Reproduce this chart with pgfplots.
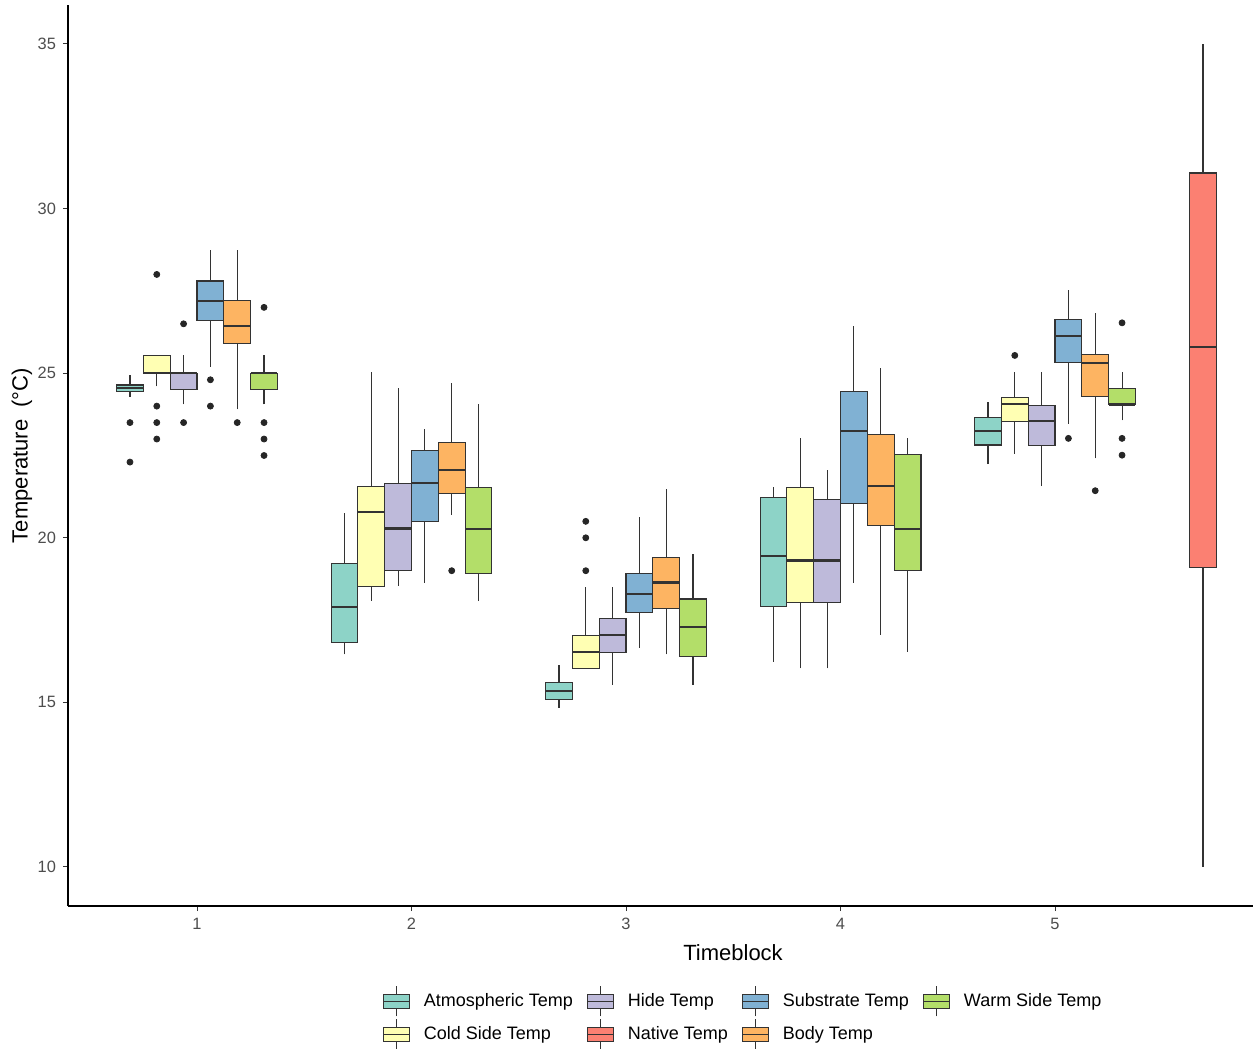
\documentclass[border=0pt]{standalone}
\usepackage{fontspec}
\setmainfont{Liberation Sans}
\usepackage{pgfplots}
\pgfplotsset{compat=1.18}
\definecolor{cAtm}{HTML}{8DD3C7}
\definecolor{cCold}{HTML}{FFFFB3}
\definecolor{cHide}{HTML}{BEBADA}
\definecolor{cNat}{HTML}{FB8072}
\definecolor{cSub}{HTML}{80B1D3}
\definecolor{cBody}{HTML}{FDB462}
\definecolor{cWarm}{HTML}{B3DE69}
\definecolor{bxc}{HTML}{333333}
\definecolor{tk}{HTML}{4D4D4D}
% box: colour, position, lower whisker, lower quartile, median, upper quartile, upper whisker
\newcommand{\bx}[7]{%
  \pgfmathsetmacro{\xa}{#2-0.0625}%
  \pgfmathsetmacro{\xb}{#2+0.0625}%
  \edef\doplots{%
    \noexpand\addplot[draw=bxc, line width=0.55pt] coordinates {(#2,#3) (#2,#4)};
    \noexpand\addplot[draw=bxc, line width=0.55pt] coordinates {(#2,#6) (#2,#7)};
    \noexpand\addplot[fill=#1, draw=bxc, line width=0.55pt, line cap=rect]
      coordinates {(\xa,#4) (\xb,#4) (\xb,#6) (\xa,#6) (\xa,#4)};
    \noexpand\addplot[draw=bxc, line width=1.15pt] coordinates {(\xa,#5) (\xb,#5)};
  }\doplots}
\pgfplotsset{legimg/.style={legend image code/.code={
  \draw[draw=bxc, line width=0.5pt] (6.5pt,-7.5pt)--(6.5pt,7.5pt);
  \draw[fill=#1, draw=bxc, line width=0.5pt] (0pt,-3.5pt) rectangle (13pt,3.5pt);
  \draw[draw=bxc, line width=0.5pt] (0pt,0pt)--(13pt,0pt);}}}
\begin{document}
\begin{tikzpicture}
\useasboundingbox (-34pt,-71.5pt) rectangle (592.5pt,453pt);
\begin{axis}[
  scale only axis, width=592.5pt, height=450.5pt,
  xmin=0.3986, xmax=5.923, ymin=8.815, ymax=36.185,
  axis lines*=left,
  axis line style={line width=0.55pt, black},
  xtick={1,2,3,4,5}, ytick={10,15,20,25,30,35},
  tick align=outside, major tick length=2.5pt,
  tick style={line width=0.5pt, color=bxc},
  ticklabel style={font=\fontsize{8.2}{9}\selectfont, text=tk},
  /pgf/number format/assume math mode=true,
  xlabel={Timeblock}, ylabel={Temperature\ \ (°C)},
  label style={font=\fontsize{11}{13}\selectfont},
  xlabel style={at={(axis description cs:0.5612,-0.0522)}, anchor=center},
  ylabel style={at={(axis description cs:-0.0388,0.5)}, anchor=center},
  legend columns=4, legend cell align=left,
  legend style={at={(axis description cs:0.5705,-0.1243)}, anchor=center,
    draw=none, fill=none, font=\fontsize{9}{10}\selectfont, row sep=1pt,
    /tikz/every odd column/.append style={column sep=5pt},
    /tikz/every even column/.append style={column sep=5pt}},
]
\addlegendimage{legimg=cAtm}\addlegendentry{Atmospheric Temp}
\addlegendimage{legimg=cHide}\addlegendentry{Hide Temp}
\addlegendimage{legimg=cSub}\addlegendentry{Substrate Temp}
\addlegendimage{legimg=cWarm}\addlegendentry{Warm Side Temp}
\addlegendimage{legimg=cCold}\addlegendentry{Cold Side Temp}
\addlegendimage{legimg=cNat}\addlegendentry{Native Temp}
\addlegendimage{legimg=cBody}\addlegendentry{Body Temp}
% group 1
\bx{cAtm}{0.6875}{24.28}{24.44}{24.56}{24.64}{24.95}
\bx{cCold}{0.8125}{24.6}{25.0}{25.0}{25.55}{25.55}
\bx{cHide}{0.9375}{24.05}{24.5}{25.0}{25.0}{25.55}
\bx{cSub}{1.0625}{25.2}{26.6}{27.2}{27.8}{28.75}
\bx{cBody}{1.1875}{23.9}{25.9}{26.43}{27.22}{28.75}
\bx{cWarm}{1.3125}{24.05}{24.5}{25.0}{25.0}{25.55}
% group 2
\bx{cAtm}{1.6875}{16.46}{16.82}{17.9}{19.22}{20.74}
\bx{cCold}{1.8125}{18.09}{18.51}{20.79}{21.55}{25.05}
\bx{cHide}{1.9375}{18.54}{19.02}{20.28}{21.64}{24.54}
\bx{cSub}{2.0625}{18.63}{20.49}{21.66}{22.65}{23.32}
\bx{cBody}{2.1875}{20.69}{21.34}{22.07}{22.89}{24.69}
\bx{cWarm}{2.3125}{18.08}{18.92}{20.27}{21.54}{24.05}
% group 3
\bx{cAtm}{2.6875}{14.84}{15.1}{15.35}{15.6}{16.14}
\bx{cCold}{2.8125}{16.02}{16.02}{16.54}{17.03}{18.51}
\bx{cHide}{2.9375}{15.54}{16.52}{17.05}{17.54}{18.51}
\bx{cSub}{3.0625}{16.66}{17.73}{18.29}{18.92}{20.64}
\bx{cBody}{3.1875}{16.46}{17.84}{18.64}{19.39}{21.48}
\bx{cWarm}{3.3125}{15.54}{16.39}{17.29}{18.14}{19.52}
% group 4
\bx{cAtm}{3.6875}{16.23}{17.91}{19.44}{21.23}{21.55}
\bx{cCold}{3.8125}{16.03}{18.03}{19.31}{21.54}{23.03}
\bx{cHide}{3.9375}{16.03}{18.03}{19.31}{21.16}{22.05}
\bx{cSub}{4.0625}{18.63}{21.04}{23.24}{24.44}{26.43}
\bx{cBody}{4.1875}{17.05}{20.36}{21.57}{23.15}{25.15}
\bx{cWarm}{4.3125}{16.54}{19.02}{20.27}{22.52}{23.03}
% group 5
\bx{cAtm}{4.6875}{22.24}{22.82}{23.24}{23.66}{24.13}
\bx{cCold}{4.8125}{22.55}{23.52}{24.06}{24.26}{25.05}
\bx{cHide}{4.9375}{21.57}{22.79}{23.55}{24.02}{25.05}
\bx{cSub}{5.0625}{23.46}{25.32}{26.14}{26.62}{27.53}
\bx{cBody}{5.1875}{22.41}{24.3}{25.3}{25.57}{26.83}
\bx{cWarm}{5.3125}{23.57}{24.05}{24.05}{24.54}{25.05}
% native
\bx{cNat}{5.69}{10.0}{19.11}{25.8}{31.08}{35.0}
% outliers
\addplot[only marks, mark=*, mark size=1.5pt, mark options={fill=black!85, draw=black!85}] coordinates {
 (0.6875,23.5) (0.6875,22.3)
 (0.8125,28.0) (0.8125,24.0) (0.8125,23.5) (0.8125,23.0)
 (0.9375,26.5) (0.9375,23.5)
 (1.0625,24.8) (1.0625,24.0)
 (1.1875,23.5)
 (1.3125,27.0) (1.3125,23.5) (1.3125,23.0) (1.3125,22.5)
 (2.1875,19.0)
 (2.8125,20.5) (2.8125,20.0) (2.8125,19.0)
 (4.8125,25.54)
 (5.0625,23.02)
 (5.1875,21.43)
 (5.3125,26.53) (5.3125,23.02) (5.3125,22.51)
};
\end{axis}
\end{tikzpicture}
\end{document}
